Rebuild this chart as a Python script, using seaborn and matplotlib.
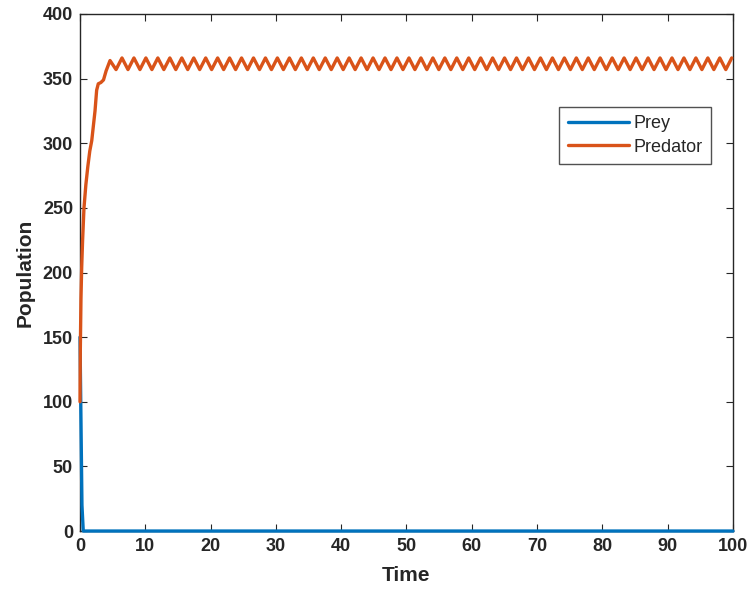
import numpy as np
import pandas as pd
import matplotlib
matplotlib.use("Agg")
import matplotlib.pyplot as plt
import seaborn as sns

# ---- data ----
prey_time = [0.0, 0.3, 0.5, 100.0]
prey_vals = [150, 20, 0, 0]

pred_rise_time = [0.0, 0.05, 0.15, 0.26, 0.4, 0.61, 0.9, 1.2, 1.5, 1.8, 2.3, 2.55, 2.8, 3.2, 3.6, 4.0]
pred_rise_vals = [100, 140, 180, 204, 225, 250, 268, 282, 294, 302, 325, 341, 346, 347, 349, 356]

peak_time = [4.6, 6.43, 8.26, 10.09, 11.92, 13.76, 15.59, 17.42, 19.25, 21.08, 22.91,
             24.74, 26.57, 28.40, 30.23, 32.07, 33.90, 35.73, 37.56, 39.39, 41.22,
             43.05, 44.88, 46.71, 48.54, 50.38, 52.21, 54.04, 55.87, 57.70, 59.53,
             61.36, 63.19, 65.02, 66.85, 68.69, 70.52, 72.35, 74.18, 76.01, 77.84,
             79.67, 81.50, 83.33, 85.16, 87.00, 88.83, 90.66, 92.49, 94.32, 96.15,
             97.98, 99.81]
peak_vals = [364] + [366] * 52
trough_time = [5.52, 7.35, 9.18, 11.01, 12.84, 14.67, 16.50, 18.33, 20.16, 22.00,
               23.83, 25.66, 27.49, 29.32, 31.15, 32.98, 34.81, 36.64, 38.48, 40.31,
               42.14, 43.97, 45.80, 47.63, 49.46, 51.29, 53.12, 54.95, 56.79, 58.62,
               60.45, 62.28, 64.11, 65.94, 67.77, 69.60, 71.43, 73.27, 75.10, 76.93,
               78.76, 80.59, 82.42, 84.25, 86.08, 87.91, 89.74, 91.58, 93.41, 95.24,
               97.07, 98.90]
trough_vals = [357] * 52

series_names = ["Prey", "Predator"]
x_ticks = [0, 10, 20, 30, 40, 50, 60, 70, 80, 90, 100]
y_ticks = [0, 50, 100, 150, 200, 250, 300, 350, 400]

# ---- build long-form table ----
osc_t, osc_v = [], []
for i in range(len(peak_time)):
    osc_t.append(peak_time[i]); osc_v.append(peak_vals[i])
    if i < len(trough_time):
        osc_t.append(trough_time[i]); osc_v.append(trough_vals[i])
pred_time = pred_rise_time + osc_t
pred_vals = pred_rise_vals + osc_v

df = pd.concat([
    pd.DataFrame({"Time": prey_time, "Population": prey_vals, "Series": series_names[0]}),
    pd.DataFrame({"Time": pred_time, "Population": pred_vals, "Series": series_names[1]}),
], ignore_index=True)

sns.set_style("ticks")
plt.rcParams['font.family'] = ['Liberation Sans', 'DejaVu Sans']

fig = plt.figure(figsize=(7.49, 5.93), dpi=100)
ax = fig.add_axes([0.1068, 0.1045, 0.8718, 0.8719])

palette = {"Prey": "#0072BD", "Predator": "#D95319"}
sns.lineplot(data=df, x="Time", y="Population", hue="Series", palette=palette,
             estimator=None, sort=False, linewidth=2.4, ax=ax)
for ln in ax.get_lines():
    ln.set_clip_on(False)
    ln.set_zorder(3)
    ln.set_solid_joinstyle('round')

ax.set_xlim(0, 100)
ax.set_ylim(0, 400)
ax.set_xticks(x_ticks)
ax.set_yticks(y_ticks)
tick_font = {'family': ['Liberation Sans Narrow', 'Liberation Sans', 'DejaVu Sans'], 'weight': 'bold', 'size': 13}
ax.set_xticklabels([str(v) for v in x_ticks], fontdict=tick_font)
ax.set_yticklabels([str(v) for v in y_ticks], fontdict=tick_font)
ax.tick_params(direction='in', length=5, width=0.8, color='#262626',
               top=True, right=True, pad=5)
for s in ax.spines.values():
    s.set_visible(True)
    s.set_linewidth(1.0)
    s.set_color('#262626')
    s.set_zorder(2)

ax.set_xlabel("Time", fontdict={'family': ['Liberation Sans Narrow', 'Liberation Sans', 'DejaVu Sans'],
                                'weight': 'bold', 'size': 15}, labelpad=8)
ax.set_ylabel("Population", fontdict={'family': ['Liberation Sans', 'DejaVu Sans'],
                                      'weight': 'bold', 'size': 15}, labelpad=6)

leg = ax.legend(loc='upper right', bbox_to_anchor=(0.966, 0.82), borderaxespad=0,
                frameon=True, fancybox=False, fontsize=13, handlelength=3.4,
                handletextpad=0.25, borderpad=0.45, labelspacing=0.35)
leg.get_frame().set_edgecolor('#262626')
leg.get_frame().set_linewidth(1.0)
leg.set_title(None)

fig.savefig("out.png", dpi=100)
